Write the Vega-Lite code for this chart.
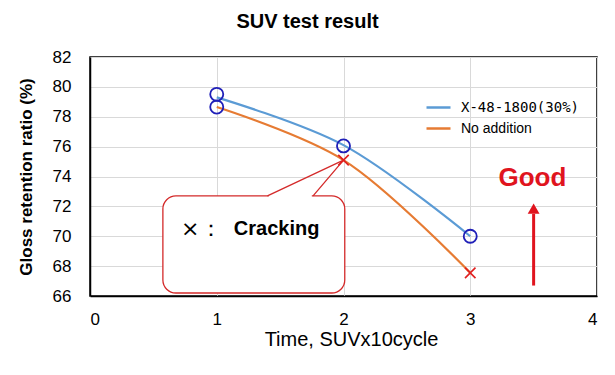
{
  "$schema": "https://vega.github.io/schema/vega-lite/v6.json",
  "autosize": "none",
  "width": 507,
  "height": 239,
  "padding": {"left": 90, "top": 57, "right": 18, "bottom": 79},
  "background": "white",
  "title": {"text": "SUV test result", "font": "Liberation Sans", "fontSize": 20, "fontWeight": "bold", "color": "black", "anchor": "middle", "dx": -36, "offset": 16},
  "config": {
    "view": {"stroke": "black", "strokeWidth": 1.5},
    "axis": {"labelFont": "Liberation Sans", "labelFontSize": 17, "labelColor": "black", "titleFont": "Liberation Sans", "titleColor": "black", "ticks": false, "tickSize": 0, "domainColor": "black", "domainWidth": 1.5, "gridColor": "#d9d9d9", "gridWidth": 1, "labelOverlap": false},
    "legend": {"labelFont": "Liberation Sans", "labelFontSize": 14, "labelColor": "black"}
  },
  "datasets": {
    "lines": [
      {"series": "X-48-1800(30%)", "time": 1, "gloss": 79.3},
      {"series": "X-48-1800(30%)", "time": 2, "gloss": 76.1},
      {"series": "X-48-1800(30%)", "time": 3, "gloss": 70.0},
      {"series": "No addition", "time": 1, "gloss": 78.65},
      {"series": "No addition", "time": 2, "gloss": 75.1},
      {"series": "No addition", "time": 3, "gloss": 67.55}
    ],
    "circles": [
      {"time": 1, "gloss": 79.5},
      {"time": 1, "gloss": 78.65},
      {"time": 2, "gloss": 76.05},
      {"time": 3, "gloss": 70.0}
    ],
    "crosses": [
      {"time": 2, "gloss": 75.1},
      {"time": 3, "gloss": 67.55}
    ],
    "box": [{"x1": 0.575, "x2": 2.01, "y1": 66.2, "y2": 72.7}],
    "pointer": [
      {"order": 1, "time": 1.4, "gloss": 72.7},
      {"order": 2, "time": 2.0, "gloss": 75.1},
      {"order": 3, "time": 1.76, "gloss": 72.7}
    ],
    "cover": [{"x1": 1.41, "x2": 1.75, "y": 72.7}],
    "labels": [
      {"time": 0.79, "gloss": 70.5, "text": "×"},
      {"time": 0.955, "gloss": 70.5, "text": "："}
    ],
    "cracking": [{"time": 1.135, "gloss": 70.5, "text": "Cracking"}],
    "good": [{"time": 3.49, "gloss": 73.9, "text": "Good"}],
    "arrow": [{"time": 3.5, "y1": 66.7, "y2": 71.5}],
    "head": [{"time": 3.5, "gloss": 71.85}]
  },
  "layer": [
    {
      "data": {"name": "box"},
      "mark": {"type": "rect", "fill": "white", "stroke": "#d42a2a", "strokeWidth": 1.3, "cornerRadius": 13},
      "encoding": {
        "x": {"field": "x1", "type": "quantitative", "scale": {"domain": [0, 4], "nice": false}, "axis": {"values": [0, 1, 2, 3, 4], "tickCount": 10, "format": "d", "title": "Time, SUVx10cycle", "titleFontSize": 20, "titleFontWeight": "normal", "titleX": 261, "labelPadding": 15, "titlePadding": 2, "grid": true}},
        "x2": {"field": "x2"},
        "y": {"field": "y1", "type": "quantitative", "scale": {"domain": [66, 82], "nice": false}, "axis": {"values": [66, 68, 70, 72, 74, 76, 78, 80, 82], "tickCount": 20, "format": "d", "title": "Gloss retention ratio (%)", "titleFontSize": 17, "titleFontWeight": "bold", "labelPadding": 19, "titlePadding": 17, "grid": true}},
        "y2": {"field": "y2"}
      }
    },
    {
      "data": {"name": "cover"},
      "mark": {"type": "rule", "stroke": "white", "strokeWidth": 3},
      "encoding": {
        "x": {"field": "x1", "type": "quantitative"},
        "x2": {"field": "x2"},
        "y": {"field": "y", "type": "quantitative"}
      }
    },
    {
      "data": {"name": "pointer"},
      "mark": {"type": "line", "stroke": "#d42a2a", "strokeWidth": 1.3},
      "encoding": {
        "x": {"field": "time", "type": "quantitative"},
        "y": {"field": "gloss", "type": "quantitative"},
        "order": {"field": "order"}
      }
    },
    {
      "data": {"name": "lines"},
      "mark": {"type": "line", "interpolate": "catmull-rom", "strokeWidth": 2.2},
      "encoding": {
        "x": {"field": "time", "type": "quantitative"},
        "y": {"field": "gloss", "type": "quantitative"},
        "color": {"field": "series", "type": "nominal", "scale": {"domain": ["X-48-1800(30%)", "No addition"], "range": ["#5b9bd5", "#e67b33"]}, "legend": {"title": null, "orient": "none", "legendX": 335, "legendY": 37, "symbolType": "stroke", "symbolSize": 576, "symbolStrokeWidth": 2.5, "rowPadding": 0, "labelOffset": 9, "padding": 0, "encode": {"labels": {"update": {"font": {"signal": "datum.value === 'X-48-1800(30%)' ? 'DejaVu Sans Mono' : 'Liberation Sans'"}}}}}}
      }
    },
    {
      "data": {"name": "circles"},
      "mark": {"type": "point", "shape": "circle", "filled": false, "stroke": "#1f1fb8", "strokeWidth": 1.8, "size": 170, "opacity": 1},
      "encoding": {
        "x": {"field": "time", "type": "quantitative"},
        "y": {"field": "gloss", "type": "quantitative"}
      }
    },
    {
      "data": {"name": "crosses"},
      "mark": {"type": "point", "shape": "M-1,-1L1,1M1,-1L-1,1", "filled": false, "stroke": "#e02020", "strokeWidth": 1.6, "size": 110, "opacity": 1},
      "encoding": {
        "x": {"field": "time", "type": "quantitative"},
        "y": {"field": "gloss", "type": "quantitative"}
      }
    },
    {
      "data": {"name": "labels"},
      "mark": {"type": "text", "font": "DejaVu Sans", "fontSize": 22, "color": "black", "align": "center", "baseline": "middle"},
      "encoding": {
        "x": {"field": "time", "type": "quantitative"},
        "y": {"field": "gloss", "type": "quantitative"},
        "text": {"field": "text"}
      }
    },
    {
      "data": {"name": "cracking"},
      "mark": {"type": "text", "font": "Liberation Sans", "fontSize": 20, "fontWeight": "bold", "color": "black", "align": "left", "baseline": "middle"},
      "encoding": {
        "x": {"field": "time", "type": "quantitative"},
        "y": {"field": "gloss", "type": "quantitative"},
        "text": {"field": "text"}
      }
    },
    {
      "data": {"name": "good"},
      "mark": {"type": "text", "font": "Liberation Sans", "fontSize": 26, "fontWeight": "bold", "color": "#e0141e", "align": "center", "baseline": "middle"},
      "encoding": {
        "x": {"field": "time", "type": "quantitative"},
        "y": {"field": "gloss", "type": "quantitative"},
        "text": {"field": "text"}
      }
    },
    {
      "data": {"name": "arrow"},
      "mark": {"type": "rule", "stroke": "#e0141e", "strokeWidth": 3},
      "encoding": {
        "x": {"field": "time", "type": "quantitative"},
        "y": {"field": "y1", "type": "quantitative"},
        "y2": {"field": "y2"}
      }
    },
    {
      "data": {"name": "head"},
      "mark": {"type": "point", "shape": "triangle-up", "filled": true, "color": "#e0141e", "size": 140, "opacity": 1},
      "encoding": {
        "x": {"field": "time", "type": "quantitative"},
        "y": {"field": "gloss", "type": "quantitative"}
      }
    }
  ]
}
